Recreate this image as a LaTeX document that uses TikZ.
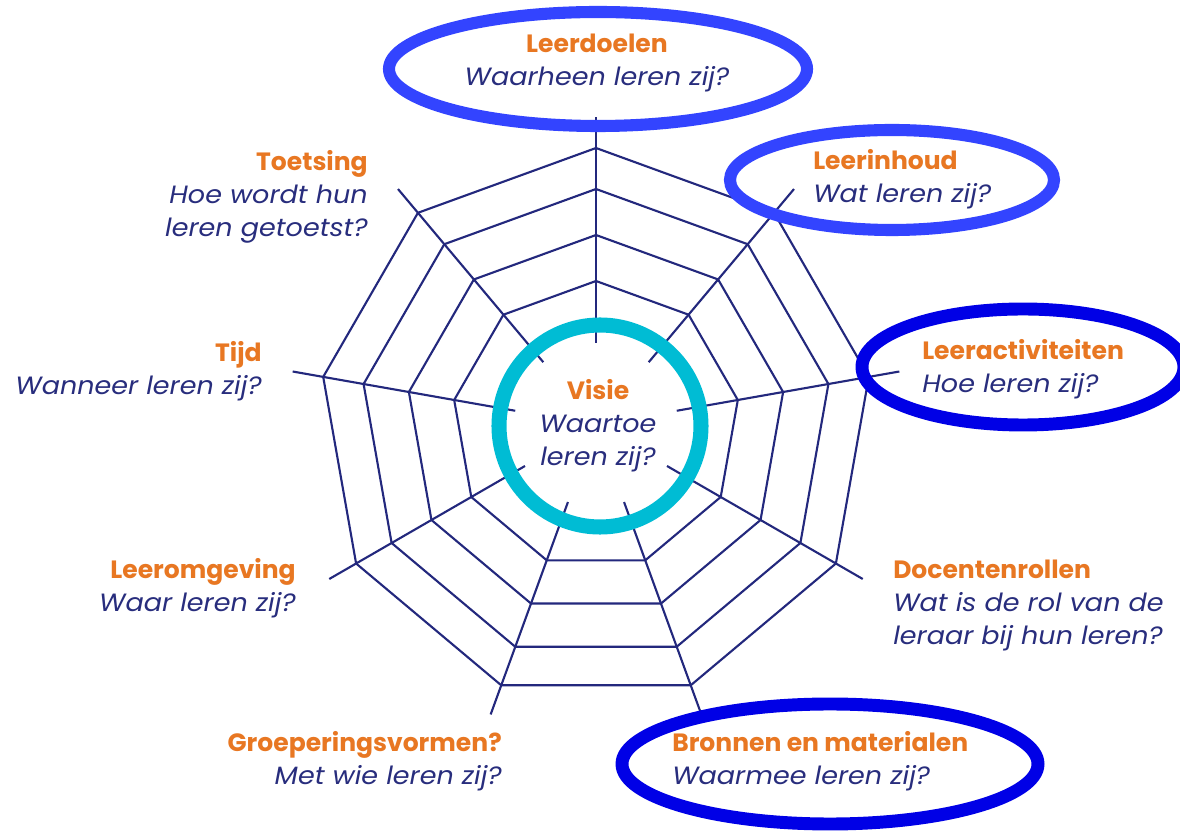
\documentclass[tikz,border=0pt]{standalone}
\usepackage{fontspec}
\setmainfont[ItalicFeatures={FakeStretch=1.08}]{Poppins}
\definecolor{webblue}{RGB}{35,40,125}
\definecolor{kleurkop}{RGB}{232,119,34}
\definecolor{kleurvraag}{RGB}{40,45,125}
\definecolor{ringcyan}{RGB}{0,188,212}
\definecolor{lichtblauw}{RGB}{51,68,255}
\definecolor{donkerblauw}{RGB}{0,0,230}
\newcommand{\kop}[1]{{\bfseries\color{kleurkop}#1}}
\newcommand{\vraag}[1]{{\itshape\color{kleurvraag}#1}}

\begin{document}
\begin{tikzpicture}[x=0.025cm, y=-0.025cm,
  web/.style = {draw=webblue, line width=1.5pt, line join=round},
  topic/.style = {inner sep=0pt, font=\fontsize{17.8}{23.5}\selectfont},
  links/.style = {topic, align=left, anchor=base west},
  rechts/.style = {topic, align=right, anchor=base east},
  midden/.style = {topic, align=center, anchor=base},
  omring/.style = {draw=#1, line width=8.6pt}]
\fill[white] (0,0) rectangle (1180,832);
\useasboundingbox (0,0) rectangle (1180,832);

% het spinnenweb
\begin{scope}[shift={(596,425)}]
\foreach \r in {144,190,236,277}
  \draw[web] (-90:\r) \foreach \k in {1,...,8} { -- ({40*\k-90}:\r) } -- cycle;
\foreach \k in {0,...,8}
  \draw[web] ({40*\k-90}:82) -- ({40*\k-90}:308);
\end{scope}

% visie in het midden
\draw[ringcyan, line width=10.7pt] (600,426) circle [radius=101];
\node[midden] (visie) at (598,466) {\kop{Visie}\\\vraag{Waartoe}\\\vraag{leren zij?}};

% omcirkelde draden
\draw[omring=lichtblauw] (598,69) ellipse [x radius=209, y radius=57];
\draw[omring=lichtblauw] (892,180) ellipse [x radius=162, y radius=50];
\draw[omring=donkerblauw, line width=9.2pt] (1023,367) ellipse [x radius=161, y radius=58];
\draw[omring=donkerblauw, line width=9.2pt] (830,764) ellipse [x radius=208, y radius=60];

% de draden
\node[midden] (leerdoelen) at (597,86) {\kop{Leerdoelen}\\\vraag{Waarheen leren zij?}};
\node[links] (leerinhoud) at (813,203) {\kop{Leerinhoud}\\\vraag{Wat leren zij?}};
\node[links] (leeractiviteiten) at (922,393) {\kop{Leeractiviteiten}\\\vraag{Hoe leren zij?}};
\node[links] (docentenrollen) at (893,645) {\kop{Docentenrollen}\\\vraag{Wat is de rol van de}\\\vraag{leraar bij hun leren?}};
\node[links] (bronnen) at (672,785) {\kop{Bronnen en materialen}\\\vraag{Waarmee leren zij?}};
\node[rechts] (groepering) at (502,785) {\kop{Groeperingsvormen?}\\\vraag{Met wie leren zij?}};
\node[rechts] (leeromgeving) at (296,612) {\kop{Leeromgeving}\\\vraag{Waar leren zij?}};
\node[rechts] (tijd) at (262,395) {\kop{Tijd}\\\vraag{Wanneer leren zij?}};
\node[rechts] (toetsing) at (368,237) {\kop{Toetsing}\\\vraag{Hoe wordt hun}\\\vraag{leren getoetst?}};
\end{tikzpicture}
\end{document}
